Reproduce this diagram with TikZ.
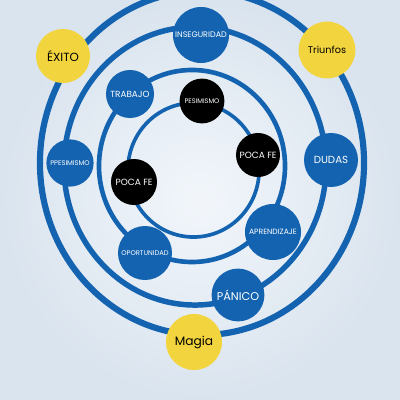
\documentclass[tikz,border=0pt]{standalone}
\usepackage{fontspec}
\setmainfont{Poppins}
\usetikzlibrary{positioning}
\definecolor{ringblue}{RGB}{20,99,176}
\definecolor{sunny}{RGB}{242,212,62}
\definecolor{bgin}{RGB}{242,246,251}
\definecolor{bgout}{RGB}{218,228,238}

\begin{document}
\begin{tikzpicture}[x=0.025cm,y=-0.025cm,
  bub/.style={circle,inner sep=0pt,fill=ringblue,text=white,font=\fontsize{#1}{#1}\selectfont},
  dark/.style={circle,inner sep=0pt,fill=black,text=white,font=\fontsize{#1}{#1}\selectfont},
  gold/.style={circle,inner sep=0pt,fill=sunny,text=black,font=\fontsize{#1}{#1}\selectfont}]
  \shade[inner color=bgin,outer color=bgout] (0,0) rectangle (400,400);
  \useasboundingbox (0,0) rectangle (400,400);
  \draw[ringblue,line width=4.4pt] (202,163) ellipse [x radius=4.05cm,y radius=4.3cm];
  \draw[ringblue,line width=3.9pt] (195,166) ellipse [x radius=3.275cm,y radius=3.475cm];
  \draw[ringblue,line width=3.3pt] (192,166) ellipse [x radius=2.325cm,y radius=2.4cm];
  \draw[ringblue,line width=2.6pt] (193.5,170) ellipse [x radius=1.64cm,y radius=1.675cm];
  \node[gold=8.4,minimum size=1.35cm] (exito) at (63,56) {ÉXITO};
  \node[gold=6.9,minimum size=1.42cm] (triunfos) at (327,50) {Triunfos};
  \node[gold=8.7,minimum size=1.4cm] (magia) at (194,342) {Magia};
  \node[bub=5.7,minimum size=1.4cm] (inseg) at (201,35) {INSEGURIDAD};
  \node[bub=4.8,minimum size=1.18cm] (ppesim) at (70,163) {PPESIMISMO};
  \node[bub=7.3,minimum size=1.35cm] (dudas) at (331,160) {DUDAS};
  \node[bub=8,minimum size=1.32cm] (panico) at (238,295) {PÁNICO};
  \node[bub=6.3,minimum size=1.2cm] (trabajo) at (130,94) {TRABAJO};
  \node[bub=5.4,minimum size=1.4cm] (aprend) at (273,232) {APRENDIZAJE};
  \node[bub=4.8,minimum size=1.35cm] (oport) at (145,253) {OPORTUNIDAD};
  \node[dark=4.7,minimum size=1.12cm] (pesim) at (202,101) {PESIMISMO};
  \node[dark=6.4,minimum size=1.1cm] (pocaR) at (258,155) {POCA FE};
  \node[dark=6.4,minimum size=1.15cm] (pocaL) at (134,182) {POCA FE};
\end{tikzpicture}
\end{document}
